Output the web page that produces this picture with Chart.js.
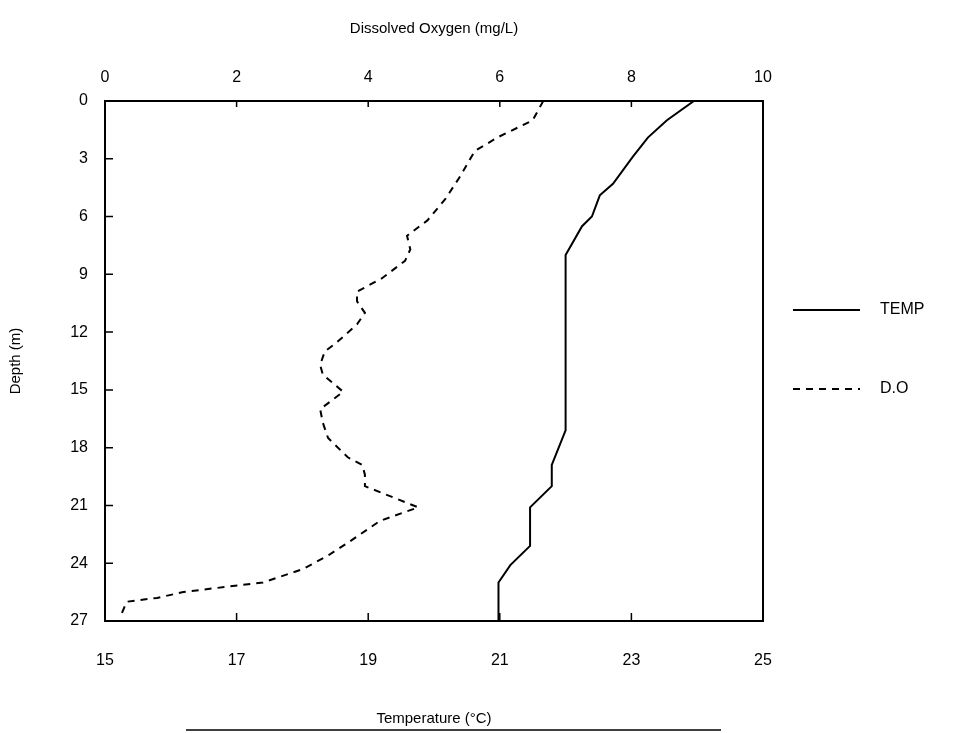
<!DOCTYPE html>
<html>
<head>
<meta charset="utf-8">
<script src="https://cdn.jsdelivr.net/npm/chart.js@4"></script>
<style>
  body { margin: 0; background: #fff; }
  #wrap { width: 958px; height: 733px; }
</style>
</head>
<body>
<div id="wrap"><canvas id="myChart" width="958" height="733"></canvas></div>
<script>
// profile data
const depthTemp = [0, 1, 1.9, 2.9, 4.3, 4.9, 6, 6.5, 8, 17.1, 18.9, 20, 21.1, 23.1, 24.1, 25, 27];
const tempValues = [23.95, 23.54, 23.25, 23.02, 22.72, 22.52, 22.4, 22.25, 22.0, 22.0, 21.79, 21.79, 21.46, 21.46, 21.16, 20.98, 20.98];

const depthDO = [0, 1.0, 1.9, 2.6, 3.9, 5.1, 6.2, 7.0, 7.7, 8.3, 9.2, 9.9, 10.4, 11.0, 11.6, 12.6, 13.0, 13.7, 14.2, 15.1, 16.0, 16.7, 17.5, 18.5, 18.9, 19.4, 20.0, 21.1, 21.8, 22.8, 23.6, 24.3, 25.0, 25.2, 25.5, 25.8, 26.0, 26.8];
const doValues = [6.66, 6.5, 5.96, 5.62, 5.4, 5.17, 4.9, 4.59, 4.64, 4.56, 4.21, 3.83, 3.83, 3.95, 3.83, 3.5, 3.34, 3.27, 3.31, 3.62, 3.27, 3.31, 3.39, 3.69, 3.91, 3.95, 3.95, 4.76, 4.18, 3.75, 3.39, 3.01, 2.4, 1.9, 1.19, 0.79, 0.33, 0.23];

const depthTicks = [0, 3, 6, 9, 12, 15, 18, 21, 24, 27];
const tempTicks = [15, 17, 19, 21, 23, 25];
const doTicks = [0, 2, 4, 6, 8, 10];

const seriesNames = ['TEMP', 'D.O'];

const fam = '"Liberation Sans", Arial, sans-serif';

function pontos(ds, vs) {
    return ds.map((d, i) => ({ x: vs[i], y: d }));
}

// frame, inward tick marks and the legend at the right
const extras = {
    id: 'extras',
    afterDraw(chart) {
        const { ctx, chartArea: a, scales } = chart;
        ctx.save();
        ctx.strokeStyle = '#000';
        ctx.lineWidth = 2;
        ctx.strokeRect(a.left, a.top, a.width, a.height);

        ctx.lineWidth = 1.5;
        ctx.beginPath();
        scales.y.ticks.forEach(t => {
            const py = scales.y.getPixelForValue(t.value);
            ctx.moveTo(a.left, py); ctx.lineTo(a.left + 8, py);
        });
        scales.xT.ticks.forEach(t => {
            const px = scales.xT.getPixelForValue(t.value);
            ctx.moveTo(px, a.bottom); ctx.lineTo(px, a.bottom - 8);
        });
        scales.xDO.ticks.forEach(t => {
            const px = scales.xDO.getPixelForValue(t.value);
            ctx.moveTo(px, a.top); ctx.lineTo(px, a.top + 6);
        });
        ctx.stroke();

        // legend
        const lx = a.right + 30;
        const rows = [a.top + 209, a.top + 288];
        ctx.font = '16px ' + fam;
        ctx.fillStyle = '#000';
        ctx.textBaseline = 'middle';
        chart.data.datasets.forEach((ds, i) => {
            ctx.lineWidth = 1.8;
            ctx.setLineDash(ds.borderDash || []);
            ctx.beginPath();
            ctx.moveTo(lx, rows[i]); ctx.lineTo(lx + 67, rows[i]);
            ctx.stroke();
            ctx.setLineDash([]);
            ctx.fillText(seriesNames[i], lx + 87, rows[i]);
        });

        // line under the bottom title
        ctx.lineWidth = 1.5;
        ctx.beginPath();
        ctx.moveTo(186, chart.height - 3); ctx.lineTo(721, chart.height - 3);
        ctx.stroke();
        ctx.restore();
    }
};

new Chart(document.getElementById('myChart'), {
    type: 'line',
    data: {
        datasets: [{
            label: seriesNames[0],
            data: pontos(depthTemp, tempValues),
            xAxisID: 'xT',
            yAxisID: 'y',
            borderColor: '#000',
            borderWidth: 2,
            pointRadius: 0,
            tension: 0
        }, {
            label: seriesNames[1],
            data: pontos(depthDO, doValues),
            xAxisID: 'xDO',
            yAxisID: 'y',
            borderColor: '#000',
            borderWidth: 2,
            borderDash: [7, 6],
            pointRadius: 0,
            tension: 0
        }]
    },
    options: {
        indexAxis: 'y',
        responsive: false,
        animation: false,
        layout: { padding: { left: 0, right: 195, top: 0, bottom: 0 } },
        plugins: { legend: { display: false }, tooltip: { enabled: false } },
        scales: {
            y: {
                type: 'linear',
                position: 'left',
                reverse: true,
                min: 0,
                max: 27,
                afterBuildTicks: s => { s.ticks = depthTicks.map(v => ({ value: v })); },
                afterFit: s => { s.width = 105; },
                ticks: { color: '#000', font: { size: 16, family: fam }, padding: 17 },
                grid: { drawOnChartArea: false, drawTicks: false },
                border: { display: false },
                title: { display: true, text: 'Depth (m)', color: '#000', font: { size: 15, family: fam }, padding: { top: 7, bottom: 0 } }
            },
            xT: {
                type: 'linear',
                position: 'bottom',
                min: 15,
                max: 25,
                afterBuildTicks: s => { s.ticks = tempTicks.map(v => ({ value: v })); },
                afterFit: s => { s.height = 112; },
                ticks: { color: '#000', font: { size: 16, family: fam }, padding: 30, maxRotation: 0 },
                grid: { drawOnChartArea: false, drawTicks: false },
                border: { display: false },
                title: { display: true, text: 'Temperature (°C)', color: '#000', font: { size: 15, family: fam }, padding: { top: 0, bottom: 5 } }
            },
            xDO: {
                type: 'linear',
                position: 'top',
                min: 0,
                max: 10,
                afterBuildTicks: s => { s.ticks = doTicks.map(v => ({ value: v })); },
                afterFit: s => { s.height = 101; },
                ticks: { color: '#000', font: { size: 16, family: fam }, padding: 14, maxRotation: 0 },
                grid: { drawOnChartArea: false, drawTicks: false },
                border: { display: false },
                title: { display: true, text: 'Dissolved Oxygen (mg/L)', color: '#000', font: { size: 15, family: fam }, padding: { top: 20, bottom: 0 } }
            }
        }
    },
    plugins: [extras]
});
</script>
</body>
</html>
